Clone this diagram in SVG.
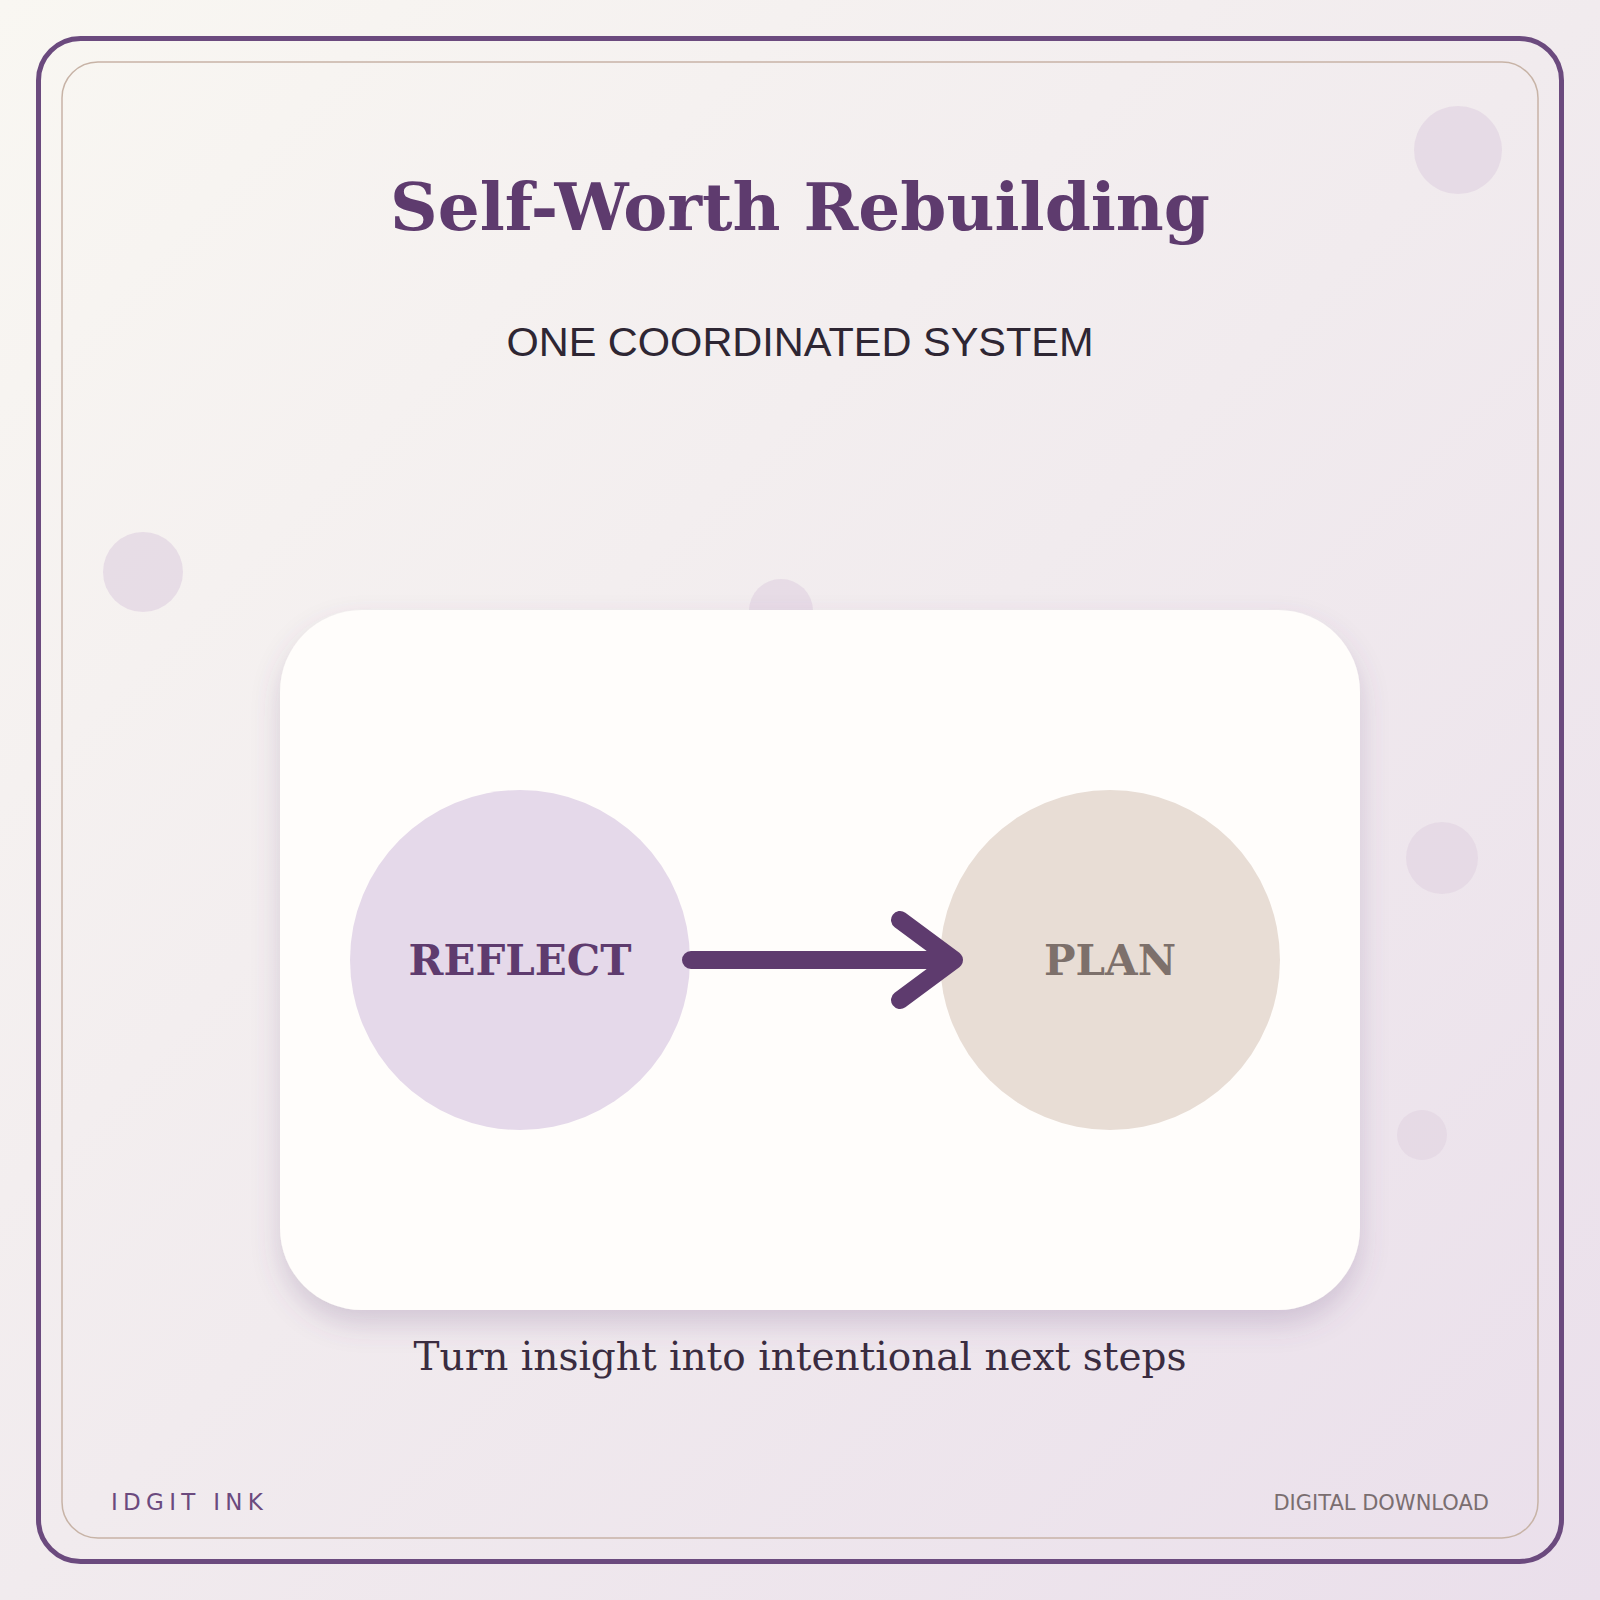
<svg xmlns="http://www.w3.org/2000/svg" width="1600" height="1600" viewBox="0 0 1600 1600">
  <defs>
    <linearGradient id="bg" x1="0" y1="0" x2="1" y2="1">
      <stop offset="0" stop-color="#f9f7f2"/>
      <stop offset="0.5" stop-color="#f1ebee"/>
      <stop offset="1" stop-color="#eadfeb"/>
    </linearGradient>
    <filter id="shadow" x="-10%" y="-10%" width="120%" height="130%">
      <feDropShadow dx="0" dy="14" stdDeviation="14" flood-color="#6b4a7e" flood-opacity="0.22"/>
    </filter>
  </defs>
  <style>
    .deco { fill: #e3d7e3; opacity: 0.8; }
    .title { font-family: "DejaVu Serif", serif; font-weight: bold; fill: #5e3b6e; }
    .sub { font-family: "Liberation Sans", Arial, sans-serif; fill: #2e2633; }
    .label { font-family: "DejaVu Serif", serif; font-weight: bold; font-size: 42px; text-anchor: middle; }
    .tag { font-family: "DejaVu Serif", serif; fill: #3a2c40; }
    .foot { font-family: "DejaVu Sans", sans-serif; }
    .conn { fill: none; stroke: #5e3b6e; stroke-width: 18; stroke-linecap: round; stroke-linejoin: round; }
  </style>

  <rect x="0" y="0" width="1600" height="1600" fill="url(#bg)"/>
  <rect x="38.5" y="38.5" width="1523" height="1523" rx="42" fill="none" stroke="#6b4a7e" stroke-width="5"/>
  <rect x="62" y="62" width="1476" height="1476" rx="36" fill="none" stroke="#c7b3a6" stroke-width="1.5"/>

  <g id="decorations">
    <circle class="deco" cx="1458" cy="150" r="44"/>
    <circle class="deco" cx="143" cy="572" r="40"/>
    <circle class="deco" cx="781" cy="611" r="32"/>
    <circle class="deco" cx="1442" cy="858" r="36"/>
    <circle class="deco" cx="1422" cy="1135" r="25"/>
  </g>

  <text id="title" class="title" x="800" y="230" font-size="66" text-anchor="middle">Self-Worth Rebuilding</text>
  <text id="subtitle" class="sub" x="800" y="356" font-size="41.5" text-anchor="middle">ONE COORDINATED SYSTEM</text>

  <rect id="card" x="280" y="610" width="1080" height="700" rx="82" fill="#fffdfb" filter="url(#shadow)"/>

  <g id="node-reflect">
    <circle cx="520" cy="960" r="170" fill="#e5d9ea"/>
    <text class="label" x="520" y="975" fill="#5e3b6e">REFLECT</text>
  </g>
  <g id="node-plan">
    <circle cx="1110" cy="960" r="170" fill="#e8ddd5"/>
    <text class="label" x="1110" y="975" fill="#7d706b">PLAN</text>
  </g>

  <g id="connectors">
    <path class="conn" d="M691 960 L954 960 M900 920 L954 960 L900 1000"/>
  </g>

  <text id="tagline" class="tag" x="800" y="1370" font-size="39" text-anchor="middle">Turn insight into intentional next steps</text>

  <text id="brand" class="foot" x="111" y="1510" font-size="23" letter-spacing="5.3" fill="#6b4a7e">IDGIT INK</text>
  <text id="download" class="foot" x="1489" y="1510" font-size="21" text-anchor="end" fill="#7a6e70">DIGITAL DOWNLOAD</text>
</svg>
